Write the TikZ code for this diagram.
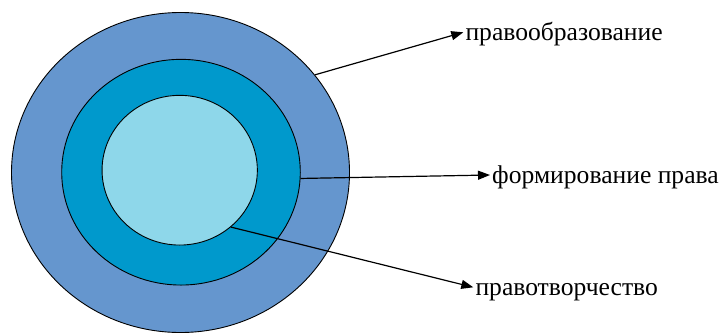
\documentclass[tikz,border=0pt]{standalone}
\usepackage{fontspec}
\setmainfont{Liberation Serif}
\usetikzlibrary{shapes.geometric,arrows.meta}
\definecolor{outerc}{RGB}{101,150,206}
\definecolor{midc}{RGB}{0,153,204}
\definecolor{innerc}{RGB}{142,215,234}
\tikzset{
  ring/.style={ellipse, draw=black, line width=0.9pt, inner sep=0pt},
  lbl/.style={anchor=west, inner xsep=2pt, inner ysep=0pt, text height=16pt, text depth=0pt, font=\fontsize{25.6}{28}\selectfont},
  conn/.style={line width=1.2pt, -{Triangle[length=12pt,width=9pt]}}
}
\begin{document}
\begin{tikzpicture}[x=1pt,y=1pt]
\useasboundingbox (0,0) rectangle (720,333);
\node[ring, fill=outerc, minimum width=338pt, minimum height=320pt] (outer) at (180.5,160.5) {};
\node[ring, fill=midc, minimum width=238.6pt, minimum height=225.7pt] (mid) at (181,160.8) {};
\node[ring, fill=innerc, minimum width=155.3pt, minimum height=149.7pt] (inner) at (179.7,162.8) {};
\node[lbl] (t1) at (463.3,300.7) {правообразование};
\node[lbl] (t2) at (490,158) {формирование права};
\node[lbl] (t3) at (473.3,45.7) {правотворчество};
\draw[conn] (outer.36.3) -- (t1.west);
\draw[conn] (mid.-3.4) -- (t2.west);
\draw[conn] (inner.-48.8) -- (t3.west);
\end{tikzpicture}
\end{document}
